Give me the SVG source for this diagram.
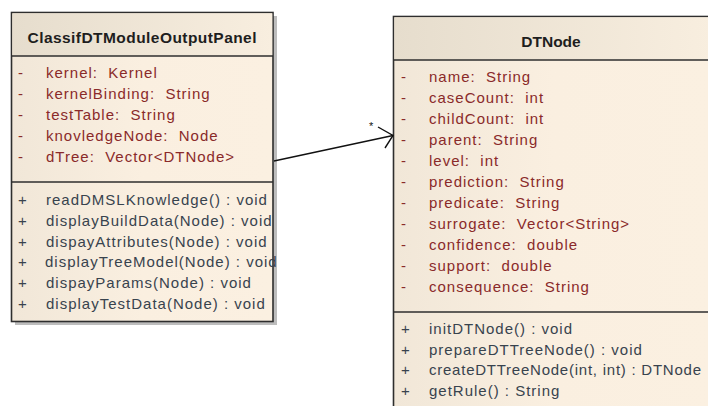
<svg xmlns="http://www.w3.org/2000/svg" width="708" height="406" viewBox="0 0 708 406">
<defs>
<linearGradient id="gHead" x1="0" y1="0" x2="1" y2="0">
<stop offset="0" stop-color="#E6DDCD"/>
<stop offset="1" stop-color="#F8EEDF"/>
</linearGradient>
<linearGradient id="gBody" x1="0" y1="0" x2="1" y2="0">
<stop offset="0" stop-color="#F1E7D8"/>
<stop offset="0.5" stop-color="#FAEFE0"/>
<stop offset="1" stop-color="#FBF0E1"/>
</linearGradient>
<style>
.box{stroke:#2E2E2E;stroke-width:1.6}
.div{stroke:#2E2E2E;stroke-width:1.4}
.shadow{fill:#BDBDBD}
.title{font-family:"Liberation Sans",Arial,sans-serif;font-size:15.5px;font-weight:bold;fill:#1E1E1E;text-anchor:middle}
.attr{font-family:"Liberation Sans",Arial,sans-serif;font-size:15px;fill:#8A2A2A;letter-spacing:1px;white-space:pre}
.op{font-family:"Liberation Sans",Arial,sans-serif;font-size:15px;fill:#38434E;letter-spacing:1px}
.tight{letter-spacing:0}
.conn{stroke:#111;stroke-width:1.4;fill:none}
.mult{font-family:"Liberation Sans",Arial,sans-serif;font-size:11px;fill:#111}
</style>
</defs>
<rect width="708" height="406" fill="#FFFFFF"/>

<g id="ClassifDTModuleOutputPanel">
<rect class="shadow" x="15" y="16" width="262" height="309"/>
<rect x="11.5" y="12.5" width="261.5" height="309" fill="url(#gBody)" class="box"/>
<rect x="12.3" y="13.3" width="260" height="42.5" fill="url(#gHead)"/>
<line class="div" x1="11.5" y1="56" x2="273" y2="56"/>
<line class="div" x1="11.5" y1="182" x2="273" y2="182"/>
<text class="title" x="142" y="43" textLength="229" lengthAdjust="spacing">ClassifDTModuleOutputPanel</text>
<g class="attr">
<text x="18" y="78">-</text><text x="46" y="78">kernel:&#160; Kernel</text>
<text x="18" y="99">-</text><text x="46" y="99">kernelBinding:&#160; String</text>
<text x="18" y="120">-</text><text x="46" y="120">testTable:&#160; String</text>
<text x="18" y="141">-</text><text x="46" y="141">knovledgeNode:&#160; Node</text>
<text x="18" y="162">-</text><text x="46" y="162">dTree:&#160; Vector&lt;DTNode&gt;</text>
</g>
<g class="op">
<text x="18" y="205">+</text><text x="46" y="205">readDMSLKnowledge() : void</text>
<text x="18" y="225.5">+</text><text x="46" y="225.5">displayBuildData(Node) : void</text>
<text x="18" y="246.5">+</text><text x="46" y="246.5">dispayAttributes(Node) : void</text>
<text x="18" y="266.5">+</text><text x="45" y="266.5">displayTreeModel(Node) : void</text>
<text x="18" y="288">+</text><text x="46" y="288">dispayParams(Node) : void</text>
<text x="18" y="308.5">+</text><text x="46" y="308.5">displayTestData(Node) : void</text>
</g>
</g>

<g id="DTNode">
<rect class="shadow" x="397" y="20" width="320" height="400"/>
<rect x="393.5" y="16.5" width="320" height="400" fill="url(#gBody)" class="box"/>
<rect x="394.3" y="17.3" width="318" height="42.5" fill="url(#gHead)"/>
<line class="div" x1="393.5" y1="60" x2="713" y2="60"/>
<line class="div" x1="393.5" y1="312" x2="713" y2="312"/>
<text class="title" x="551" y="47">DTNode</text>
<g class="attr">
<text x="401" y="82">-</text><text x="429" y="82">name:&#160; String</text>
<text x="401" y="103">-</text><text x="429" y="103">caseCount:&#160; int</text>
<text x="401" y="124">-</text><text x="429" y="124">childCount:&#160; int</text>
<text x="401" y="145">-</text><text x="429" y="145">parent:&#160; String</text>
<text x="401" y="166">-</text><text x="429" y="166">level:&#160; int</text>
<text x="401" y="187">-</text><text x="429" y="187">prediction:&#160; String</text>
<text x="401" y="208">-</text><text x="429" y="208">predicate:&#160; String</text>
<text x="401" y="229">-</text><text x="429" y="229">surrogate:&#160; Vector&lt;String&gt;</text>
<text x="401" y="250">-</text><text x="429" y="250">confidence:&#160; double</text>
<text x="401" y="271">-</text><text x="429" y="271">support:&#160; double</text>
<text x="401" y="292">-</text><text x="429" y="292">consequence:&#160; String</text>
</g>
<g class="op">
<text x="401" y="334">+</text><text x="429" y="334">initDTNode() : void</text>
<text x="401" y="355">+</text><text x="429" y="355">prepareDTTreeNode() : void</text>
<text x="401" y="375">+</text><text class="tight" x="429" y="375" textLength="272" lengthAdjust="spacing">createDTTreeNode(int, int) : DTNode</text>
<text x="401" y="396">+</text><text x="429" y="396">getRule() : String</text>
</g>
</g>

<g id="connectors">
<line class="conn" x1="274" y1="161" x2="393" y2="135.5"/>
<polyline class="conn" points="378,127 393,135.5 385,148"/>
<text class="mult" x="369" y="130">*</text>
</g>
</svg>
